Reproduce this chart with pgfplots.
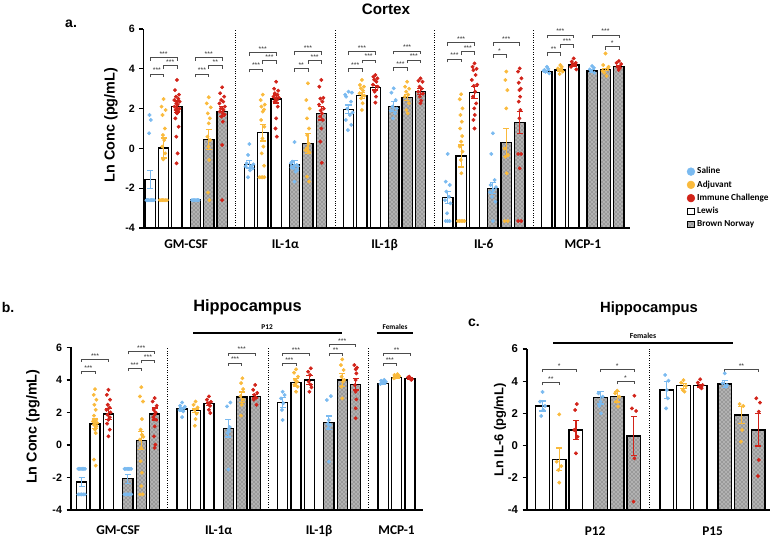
\documentclass[border=0pt]{standalone}
\usepackage{pgfplots}
\pgfplotsset{compat=1.18}
\usepackage{fontspec}
\setmainfont{Liberation Sans}
\newfontfamily\carlito{Carlito}
\usetikzlibrary{patterns}
\definecolor{sal}{RGB}{122,186,240}
\definecolor{adj}{RGB}{250,186,60}
\definecolor{imm}{RGB}{210,35,25}
\tikzset{
  hatched/.style={fill=black!30, postaction={pattern=crosshatch dots, pattern color=black!70}},
  sepl/.style={line width=0.7pt, dash pattern=on 0.7pt off 1.1pt},
  sigline/.style={draw=black!70, line width=0.45pt},
  sigtext/.style={above, inner sep=0.6pt, font=\fontsize{5.2}{5.2}\selectfont, text=black!80},
}
\pgfplotsset{
  panel/.style={
    scale only axis, clip=false, anchor=south west,
    axis x line*=bottom, axis y line*=left,
    axis line style={-, line width=1.3pt},
    ymin=-4, ymax=6, ytick={-4,-2,0,2,4,6}, yticklabels={-4,-2,0,2,4,6},
    y coord trafo/.code={\pgfmathparse{##1+4}},
    y coord inv trafo/.code={\pgfmathparse{##1-4}},
    ytick style={line width=1pt, black}, major tick length=3pt, tick align=outside,
    xtick style={draw=none},
    /pgf/number format/assume math mode=true,
    yticklabel style={font=\bfseries\fontsize{8}{9}\selectfont},
    xticklabel style={font=\carlito\bfseries\fontsize{10}{12}\selectfont, yshift=-2pt},
  },
  lewisbar/.style={ybar, bar shift=0pt, mark=none, fill=white, draw=black, line width=1pt, forget plot},
  bnbar/.style={ybar, bar shift=0pt, mark=none, draw=black, line width=1pt, hatched, forget plot},
  pts/.style={only marks, mark=*, mark size=1.25pt, forget plot, color=#1},
  eb/.style={forget plot, draw=none, mark=none,
    error bars/.cd, y dir=both, y explicit,
    error bar style={draw=#1, line width=0.9pt},
    error mark options={rotate=90, mark size=2.3pt, line width=0.9pt, draw=#1}},
}
\newcommand\sig[4]{\draw[sigline] (axis cs:#1,#3-0.17) -- (axis cs:#1,#3) -- node[sigtext]{#4} (axis cs:#2,#3) -- (axis cs:#2,#3-0.17);}

\begin{document}
\begin{tikzpicture}
\path[use as bounding box] (0,0) rectangle (583.5pt,405pt);

% ---------------- Panel a: Cortex ----------------
\begin{axis}[panel, at={(107.6pt,234pt)}, width=364.9pt, height=149.25pt,
  xmin=-0.5, xmax=35.8,
  xtick={2.685,10.085,17.485,24.885,32.285},
  xticklabels={GM-CSF,IL-1α,IL-1β,IL-6,MCP-1},
  legend style={at={(1.108,0.33)}, anchor=north west, draw=none, fill=none,
    font=\carlito\bfseries\fontsize{6.9}{8}\selectfont, row sep=0.4pt,
    nodes={inner sep=1.6pt}},
  legend cell align=left]
\addplot[lewisbar, bar width=0.77] coordinates {(0,-1.55) (1,0.02) (2,2.1) (7.4,-0.8) (8.4,0.79) (9.4,2.48) (14.8,1.96) (15.8,2.67) (16.8,3.05) (22.2,-2.48) (23.2,-0.38) (24.2,2.8) (29.6,3.86) (30.6,3.94) (31.6,4.19)};
\addplot[bnbar, bar width=0.77] coordinates {(3.37,-2.6) (4.37,0.46) (5.37,1.85) (10.77,-0.8) (11.77,0.25) (12.77,1.76) (18.17,2.1) (19.17,2.55) (20.17,2.85) (25.57,-2.0) (26.57,0.29) (27.57,1.31) (32.97,3.89) (33.97,3.97) (34.97,4.1)};
\draw[sepl] (axis cs:6.4,-4) -- (axis cs:6.4,6);
\draw[sepl] (axis cs:13.8,-4) -- (axis cs:13.8,6);
\draw[sepl] (axis cs:21.2,-4) -- (axis cs:21.2,6);
\draw[sepl] (axis cs:28.6,-4) -- (axis cs:28.6,6);
\addplot[pts=sal] coordinates {
(-0.28,-2.6) (-0.19,-2.6) (-0.1,-2.6) (0,-2.6) (0.1,-2.6) (0.19,-2.6) (0.28,-2.6) (-0.05,1.68) (0.05,1.43) (-0.08,0.76)
(7.4,0.22) (7.3,-0.33) (7.2,-0.75) (7.55,-0.88) (7.65,-1.0) (7.3,-1.45) (7.7,-0.8) (7.12,-0.9) (7.45,-1.1)
(14.8,2.85) (14.62,2.6) (14.98,2.35) (14.7,2.0) (14.9,1.68) (14.6,1.43) (15.0,1.18) (14.75,0.92) (15.05,2.8) (14.55,2.7) (15.1,1.8)
(22.2,-0.28) (22.05,-1.67) (22.35,-1.84) (22.1,-2.17) (22.3,-2.43) (22.0,-2.6) (22.4,-2.76) (22.15,-3.26) (22.05,-3.65) (22.2,-3.65) (22.35,-3.65)
(29.6,4.1) (29.42,3.94) (29.78,3.77) (29.5,3.85) (29.7,4.0) (29.35,3.9)
(3.12,-2.6) (3.22,-2.6) (3.32,-2.6) (3.42,-2.6) (3.52,-2.6) (3.62,-2.6)
(10.77,0.32) (10.6,-0.67) (10.94,-0.83) (10.7,-1.0) (10.85,-1.17) (10.77,-1.67) (10.5,-0.75) (11.02,-0.9) (10.55,-0.95) (10.98,-1.1) (10.75,-0.85)
(18.17,3.02) (18.0,2.8) (18.32,2.43) (18.08,2.1) (18.27,1.76) (18.12,1.51) (18.4,2.0) (17.95,1.9)
(25.57,0.76) (25.45,-0.28) (25.7,-1.59) (25.4,-1.84) (25.6,-2.09) (25.5,-2.43) (25.75,-2.68) (25.57,-3.65) (25.35,-2.2) (25.8,-1.95)
(32.97,4.14) (32.8,3.97) (33.14,3.8) (32.88,3.9) (33.1,4.05)};
\addplot[pts=adj] coordinates {
(1.0,2.48) (0.85,2.1) (1.15,1.93) (0.92,1.68) (1.1,1.0) (0.95,0.67) (1.05,0.42) (0.9,0.09) (1.12,-0.25) (0.98,-0.55) (0.72,-2.6) (0.82,-2.6) (0.92,-2.6) (1.02,-2.6) (1.12,-2.6) (1.25,-2.6)
(8.4,2.7) (8.25,2.43) (8.55,2.2) (8.3,2.1) (8.5,1.95) (8.4,1.85) (8.28,1.43) (8.52,1.09) (8.38,0.5) (8.45,0.09) (8.32,-0.25) (8.5,-0.87) (8.15,-1.45) (8.28,-1.45) (8.4,-1.45) (8.52,-1.45)
(15.8,3.44) (15.65,3.19) (15.95,3.1) (15.72,3.02) (15.88,2.9) (15.62,2.77) (15.98,2.65) (15.75,2.52) (15.85,2.27) (15.8,1.93)
(23.2,2.72) (23.1,2.47) (23.3,2.01) (23.15,1.68) (23.25,1.34) (23.12,1.0) (23.28,0.62) (23.2,0.34) (23.1,0.09) (23.3,-0.16) (23.18,-0.58) (23.22,-1.25) (22.95,-3.65) (23.07,-3.65) (23.2,-3.65) (23.33,-3.65) (23.45,-3.65)
(30.6,4.19) (30.42,4.02) (30.78,3.86) (30.55,3.74) (30.7,4.1) (30.48,3.95)
(4.37,2.57) (4.22,2.26) (4.52,2.06) (4.3,1.76) (4.45,1.51) (4.37,1.26) (4.27,0.59) (4.47,0.42) (4.35,0.09) (4.4,-0.58) (4.32,-2.22) (4.42,-2.6)
(11.77,3.27) (11.65,2.43) (11.9,2.0) (11.7,1.51) (11.85,1.0) (11.72,0.67) (11.82,0.25) (11.68,0.0) (11.88,-0.2) (11.6,-0.1) (11.7,-1.42) (11.85,-1.67)
(19.17,3.35) (19.02,3.1) (19.32,3.0) (19.1,2.85) (19.25,2.7) (19.0,2.6) (19.3,2.27) (19.12,1.93) (19.22,1.76)
(26.57,3.86) (26.5,3.44) (26.65,2.93) (26.57,2.01) (26.45,0.0) (26.7,-0.33) (26.5,-0.42) (26.6,-1.25) (26.45,-3.65) (26.68,-3.65)
(33.97,4.77) (33.8,4.19) (34.14,4.02) (33.88,3.8) (34.05,3.64) (34.2,4.1) (33.75,3.9)};
\addplot[pts=imm] coordinates {
(2.0,3.44) (1.85,2.93) (2.15,2.7) (1.92,2.6) (2.1,2.5) (1.8,2.43) (2.2,2.35) (1.95,2.26) (2.05,2.2) (1.82,2.1) (2.18,2.0) (1.9,1.93) (2.1,1.85) (2.0,1.76) (1.88,1.51) (2.12,1.09) (1.95,0.59) (2.05,-0.25) (1.97,-0.75)
(9.4,3.35) (9.25,3.0) (9.55,2.9) (9.3,2.77) (9.5,2.7) (9.2,2.6) (9.6,2.55) (9.35,2.5) (9.45,2.43) (9.28,2.35) (9.52,2.1) (9.4,1.51) (9.35,1.0) (9.45,0.59)
(16.8,3.69) (16.65,3.6) (16.95,3.52) (16.72,3.45) (16.88,3.35) (16.62,3.2) (16.98,3.1) (16.75,2.85) (16.85,2.6) (16.8,2.3)
(24.2,4.27) (24.05,4.1) (24.35,4.0) (24.12,3.93) (24.28,3.69) (24.0,3.44) (24.4,3.2) (24.15,3.14) (24.25,2.85) (24.08,2.6) (24.32,2.26) (24.18,2.01) (24.22,1.68) (24.12,1.43) (24.2,1.0)
(31.6,4.52) (31.45,4.36) (31.75,4.3) (31.52,4.25) (31.68,4.19) (31.4,4.1) (31.8,3.97)
(5.37,3.07) (5.22,2.77) (5.52,2.6) (5.3,2.43) (5.45,2.35) (5.17,2.26) (5.57,2.1) (5.27,2.0) (5.47,1.93) (5.2,1.85) (5.4,1.76) (5.55,1.7) (5.32,1.6) (5.42,1.34) (5.37,0.17) (5.37,-2.6)
(12.77,3.44) (12.62,3.1) (12.92,2.54) (12.7,2.5) (12.85,2.35) (12.6,2.2) (12.95,2.0) (12.72,1.9) (12.82,1.76) (12.67,1.6) (12.88,1.43) (12.77,1.0) (12.7,0.34) (12.8,-0.72)
(20.17,3.52) (20.02,3.4) (20.32,3.35) (20.1,3.1) (20.25,3.0) (20.0,2.85) (20.35,2.75) (20.12,2.6) (20.22,2.4) (20.17,2.27)
(27.57,4.02) (27.45,3.86) (27.7,3.52) (27.5,3.3) (27.65,3.0) (27.55,2.93) (27.6,2.6) (27.5,2.35) (27.62,1.93) (27.55,1.51) (27.45,-0.28) (27.68,-0.28) (27.57,-1.0) (27.45,-3.65) (27.68,-3.65)
(34.97,4.39) (34.8,4.3) (35.14,4.24) (34.88,4.1) (35.05,4.05) (34.95,3.94)};
\addplot[eb=sal] coordinates {(0,-1.55) +- (0,0.45) (3.37,-2.6) +- (0,0.03) (7.4,-0.8) +- (0,0.18) (10.77,-0.8) +- (0,0.2) (14.8,1.96) +- (0,0.22) (18.17,2.1) +- (0,0.25) (22.2,-2.48) +- (0,0.3) (25.57,-2.0) +- (0,0.28) (29.6,3.86) +- (0,0.06) (32.97,3.89) +- (0,0.06)};
\addplot[eb=adj] coordinates {(1,0.02) +- (0,0.5) (4.37,0.46) +- (0,0.5) (8.4,0.79) +- (0,0.42) (11.77,0.25) +- (0,0.5) (15.8,2.67) +- (0,0.15) (19.17,2.55) +- (0,0.15) (23.2,-0.38) +- (0,0.55) (26.57,0.29) +- (0,0.7) (30.6,3.94) +- (0,0.05) (33.97,3.97) +- (0,0.06)};
\addplot[eb=imm] coordinates {(2,2.1) +- (0,0.28) (5.37,1.85) +- (0,0.25) (9.4,2.48) +- (0,0.2) (12.77,1.76) +- (0,0.33) (16.8,3.05) +- (0,0.12) (20.17,2.85) +- (0,0.15) (24.2,2.8) +- (0,0.3) (27.57,1.31) +- (0,0.55) (31.6,4.19) +- (0,0.05) (34.97,4.1) +- (0,0.05)};
\sig{0}{1}{3.74}{***}\sig{0}{2}{4.58}{***}\sig{1}{2}{4.16}{***}
\sig{3.37}{4.37}{3.74}{***}\sig{3.37}{5.37}{4.58}{***}\sig{4.37}{5.37}{4.16}{**}
\sig{7.4}{8.4}{3.99}{***}\sig{7.4}{9.4}{4.83}{***}\sig{8.4}{9.4}{4.41}{***}
\sig{10.77}{11.77}{4.02}{**}\sig{10.77}{12.77}{4.86}{***}\sig{11.77}{12.77}{4.41}{***}
\sig{14.8}{15.8}{4.02}{***}\sig{14.8}{16.8}{4.86}{***}\sig{15.8}{16.8}{4.44}{***}
\sig{18.17}{19.17}{4.06}{***}\sig{18.17}{20.17}{4.89}{***}\sig{19.17}{20.17}{4.44}{***}
\sig{22.2}{23.2}{4.49}{***}\sig{22.2}{24.2}{5.33}{***}\sig{23.2}{24.2}{4.86}{***}
\sig{25.57}{26.57}{4.73}{*}\sig{25.57}{27.57}{5.33}{***}
\sig{29.6}{30.6}{4.81}{**}\sig{29.6}{31.6}{5.7}{***}\sig{30.6}{31.6}{5.23}{***}
\sig{32.97}{34.97}{5.7}{***}\sig{33.97}{34.97}{5.11}{*}
\addlegendimage{legend image code/.code={\fill[sal] (0.09cm,0cm) circle (2.9pt);}}\addlegendentry{Saline}
\addlegendimage{legend image code/.code={\fill[adj] (0.09cm,0cm) circle (2.9pt);}}\addlegendentry{Adjuvant}
\addlegendimage{legend image code/.code={\fill[imm] (0.09cm,0cm) circle (2.9pt);}}\addlegendentry{Immune Challenge}
\addlegendimage{legend image code/.code={\draw[line width=0.8pt, fill=white] (0cm,-0.085cm) rectangle (0.18cm,0.085cm);}}\addlegendentry{Lewis}
\addlegendimage{legend image code/.code={\draw[line width=0.8pt, hatched] (0cm,-0.085cm) rectangle (0.18cm,0.085cm);}}\addlegendentry{Brown Norway}
\end{axis}

% ---------------- Panel b: Hippocampus ----------------
\begin{axis}[panel, at={(53pt,22.5pt)}, width=264.2pt, height=122pt,
  xmin=-0.82, xmax=25.47,
  xtick={2.725,10.225,17.725,23.5},
  xticklabels={GM-CSF,IL-1α,IL-1β,MCP-1},
  xticklabel style={yshift=-3pt}]
\addplot[lewisbar, bar width=0.76] coordinates {(0,-2.27) (1,1.29) (2,1.9) (7.5,2.2) (8.5,2.1) (9.5,2.53) (15,2.62) (16,3.83) (17,3.99) (22.5,3.79) (23.5,4.16) (24.5,4.09)};
\addplot[bnbar, bar width=0.76] coordinates {(3.45,-2.08) (4.45,0.27) (5.45,1.9) (10.95,1.02) (11.95,2.94) (12.95,2.98) (18.45,1.37) (19.45,3.99) (20.45,3.73)};
\draw[sepl] (axis cs:6.42,-4) -- (axis cs:6.42,6);
\draw[sepl] (axis cs:13.93,-4) -- (axis cs:13.93,6);
\draw[sepl] (axis cs:21.44,-4) -- (axis cs:21.44,6);
\addplot[pts=sal] coordinates {
(-0.25,-1.47) (-0.15,-1.47) (-0.05,-1.47) (0.05,-1.47) (0.15,-1.47) (0.25,-1.47) (-0.25,-3.04) (-0.12,-3.04) (0,-3.04) (0.12,-3.04) (0.25,-3.04)
(7.5,2.61) (7.35,2.41) (7.65,2.27) (7.42,2.2) (7.58,2.06) (7.5,1.71) (7.7,2.35) (7.3,2.15)
(15.0,3.27) (15.15,3.07) (14.88,2.86) (15.05,2.56) (14.95,2.15) (15.0,1.53)
(22.5,3.9) (22.35,3.95) (22.65,3.85) (22.42,3.8) (22.58,4.0) (22.3,3.75) (22.7,3.88)
(3.2,-1.47) (3.3,-1.47) (3.4,-1.47) (3.5,-1.47) (3.6,-1.47) (3.7,-1.47) (3.2,-3.04) (3.33,-3.04) (3.45,-3.04) (3.58,-3.04) (3.7,-3.04)
(11.1,2.61) (10.85,2.37) (10.95,0.94) (10.88,0.73) (11.05,1.1) (11.0,0.85) (10.95,-1.51)
(18.6,3.0) (18.3,2.76) (18.45,1.53) (18.55,1.23) (18.4,1.02) (18.35,1.3) (18.45,-1.03)};
\addplot[pts=adj] coordinates {
(1.0,3.43) (0.9,3.08) (1.1,2.78) (0.95,2.47) (1.05,2.16) (0.92,1.8) (1.08,1.55) (0.85,1.45) (1.15,1.35) (0.9,1.25) (1.1,1.14) (1.0,0.94) (1.05,0.73) (0.92,-0.9) (1.05,-1.27)
(8.5,2.67) (8.35,2.47) (8.65,2.3) (8.42,2.16) (8.58,1.92) (8.5,1.59) (8.45,1.18)
(16.0,4.65) (15.85,4.44) (16.15,4.2) (15.92,4.0) (16.08,3.89) (15.88,3.7) (16.12,3.58) (16.0,3.27)
(23.5,4.2) (23.35,4.3) (23.65,4.25) (23.42,4.15) (23.58,4.35) (23.3,4.1) (23.7,4.22)
(4.45,3.55) (4.35,2.98) (4.58,2.67) (4.5,1.59) (4.4,0.94) (4.5,0.63) (4.35,0.33) (4.6,0.5) (4.45,-0.18) (4.4,-1.0) (4.5,-1.71) (4.45,-2.53) (4.35,-3.04) (4.55,-3.04)
(12.0,4.1) (11.9,3.8) (12.05,3.43) (11.85,3.0) (12.05,2.78) (11.95,2.47) (11.9,1.8)
(19.45,5.26) (19.35,4.91) (19.55,4.61) (19.4,4.2) (19.5,3.89) (19.38,3.58) (19.45,2.86) (19.6,4.0)};
\addplot[pts=imm] coordinates {
(2.0,3.39) (1.88,3.08) (2.12,2.78) (1.95,2.47) (2.08,2.3) (1.85,2.16) (2.15,2.0) (1.92,1.86) (2.1,1.7) (2.0,1.55) (1.9,1.31) (2.1,0.94) (2.0,0.53)
(9.5,2.98) (9.35,2.78) (9.65,2.65) (9.42,2.57) (9.58,2.4) (9.5,2.16) (9.6,1.96)
(17.1,4.71) (16.9,4.5) (17.05,4.3) (16.95,3.89) (17.1,3.7) (17.15,3.54) (17.0,3.27)
(24.35,4.15) (24.5,4.1) (24.65,4.05) (24.45,4.2) (24.6,4.0)
(5.45,2.88) (5.3,2.67) (5.6,2.41) (5.38,2.16) (5.52,2.0) (5.45,1.86) (5.35,1.7) (5.55,1.55) (5.45,1.14) (5.4,0.53) (5.5,0.02) (5.45,-0.18)
(12.95,3.69) (12.8,3.39) (13.1,3.2) (12.88,3.08) (13.02,2.9) (12.85,2.78) (13.05,2.47)
(20.35,4.91) (20.55,4.75) (20.45,4.65) (20.5,4.4) (20.45,3.99) (20.4,3.68) (20.45,3.27) (20.5,2.8) (20.45,2.25) (20.45,1.64)};
\addplot[eb=sal] coordinates {(0,-2.27) +- (0,0.27) (3.45,-2.08) +- (0,0.27) (7.5,2.2) +- (0,0.11) (10.95,1.02) +- (0,0.53) (15,2.62) +- (0,0.31) (18.45,1.37) +- (0,0.41) (22.5,3.79) +- (0,0.04)};
\addplot[eb=adj] coordinates {(1,1.29) +- (0,0.3) (4.45,0.27) +- (0,0.57) (8.5,2.1) +- (0,0.11) (11.95,2.94) +- (0,0.31) (16,3.83) +- (0,0.25) (19.45,3.99) +- (0,0.4) (23.5,4.16) +- (0,0.05)};
\addplot[eb=imm] coordinates {(2,1.9) +- (0,0.33) (5.45,1.9) +- (0,0.37) (9.5,2.53) +- (0,0.1) (12.95,2.98) +- (0,0.1) (17,3.99) +- (0,0.27) (20.45,3.73) +- (0,0.35) (24.5,4.09) +- (0,0.05)};
\sig{0}{1}{4.51}{***}\sig{0}{2}{5.27}{***}
\sig{3.45}{4.45}{4.71}{***}\sig{3.45}{5.45}{5.73}{***}\sig{4.45}{5.45}{5.18}{***}
\sig{10.95}{11.95}{5.04}{***}\sig{10.95}{12.95}{5.65}{***}
\sig{15}{16}{5.02}{***}\sig{15}{17}{5.63}{***}
\sig{18.45}{19.45}{5.63}{**}\sig{18.45}{20.45}{6.18}{***}
\sig{22.5}{23.5}{5.02}{***}\sig{22.5}{24.5}{5.63}{**}
\end{axis}

% ---------------- Panel c: Hippocampus IL-6 ----------------
\begin{axis}[panel, at={(395pt,22.5pt)}, width=182.5pt, height=120.75pt,
  xmin=-0.95, xmax=13.62,
  xtick={3.15,10.18},
  xticklabels={P12,P15},
  xticklabel style={yshift=-4pt},
  yticklabel style={font=\bfseries\fontsize{8.5}{9}\selectfont}]
\addplot[lewisbar, bar width=0.82] coordinates {(0,2.46) (1,-0.85) (2,0.97) (7.44,3.45) (8.44,3.72) (9.44,3.72)};
\addplot[bnbar, bar width=0.82] coordinates {(3.47,2.98) (4.47,3.04) (5.47,0.6) (10.91,3.83) (11.91,1.9) (12.91,0.97)};
\draw[sepl] (axis cs:6.4,-4) -- (axis cs:6.4,6);
\addplot[pts=sal] coordinates {(0,3.33) (-0.15,2.73) (0.15,2.46) (0.05,2.21) (-0.08,1.84)
(3.35,3.25) (3.6,3.04) (3.47,2.73) (3.4,2.46) (3.5,2.0)
(7.34,4.39) (7.54,4.03) (7.44,3.45) (7.5,2.94) (7.4,2.31)
(10.91,4.49) (10.78,3.87) (11.04,3.76) (10.95,3.66)};
\addplot[pts=adj] coordinates {(1.0,1.94) (0.85,-1.0) (1.12,-1.27) (0.95,-1.52) (1.0,-2.3)
(4.47,3.41) (4.35,3.25) (4.6,3.04) (4.42,2.73) (4.52,2.42)
(8.44,4.07) (8.3,3.91) (8.58,3.7) (8.4,3.45) (8.5,3.35)
(11.8,2.58) (12.02,2.46) (11.95,0.97) (11.88,0.24)};
\addplot[pts=imm] coordinates {(2.05,2.58) (1.95,2.21) (1.9,0.97) (2.1,0.55) (2.0,-0.48)
(5.5,3.1) (5.35,2.31) (5.6,2.15) (5.5,-0.79) (5.45,-3.48)
(9.44,4.12) (9.3,3.91) (9.58,3.76) (9.4,3.66) (9.52,3.56)
(12.8,2.94) (13.02,2.67) (12.95,2.11) (12.95,-0.89) (12.9,-1.89)};
\addplot[eb=sal] coordinates {(0,2.46) +- (0,0.31) (3.47,2.98) +- (0,0.39) (7.44,3.45) +- (0,0.52) (10.91,3.83) +- (0,0.2)};
\addplot[eb=adj] coordinates {(1,-0.85) +- (0,0.7) (4.47,3.04) +- (0,0.33) (8.44,3.72) +- (0,0.15) (11.91,1.9) +- (0,0.55)};
\addplot[eb=imm] coordinates {(2,0.97) +- (0,0.6) (5.47,0.6) +- (0,1.22) (9.44,3.72) +- (0,0.08) (12.91,0.97) +- (0,1.0)};
\sig{0}{1}{3.91}{**}\sig{0}{2}{4.74}{*}
\sig{3.47}{5.47}{4.74}{*}\sig{4.47}{5.47}{3.97}{*}
\sig{10.91}{12.91}{4.74}{**}
\end{axis}

% ---------------- titles and labels ----------------
\node[font=\bfseries\fontsize{11.4}{13}\selectfont] at (289.5pt,398.25pt) {Cortex};
\node[font=\bfseries\fontsize{10.5}{12}\selectfont] at (53.3pt,387pt) {a.};
\node[rotate=90, font=\bfseries\fontsize{10.8}{12}\selectfont] at (83.25pt,311.25pt) {Ln Conc (pg/mL)};

\node[font=\bfseries\fontsize{10.5}{12}\selectfont] at (6pt,174.75pt) {b.};
\node[font=\bfseries\fontsize{12.3}{14}\selectfont] at (185.6pt,174.2pt) {Hippocampus};
\node[rotate=90, font=\bfseries\fontsize{10.8}{12}\selectfont] at (24.75pt,85pt) {Ln Conc (pg/mL)};
\draw[line width=1.5pt] (144.75pt,155.5pt) -- (256.3pt,155.5pt);
\node[font=\carlito\bfseries\fontsize{5.5}{6}\selectfont, inner sep=1pt] at (200.3pt,159.6pt) {P12};
\draw[line width=1.5pt] (282.5pt,155.5pt) -- (310pt,155.5pt);
\node[font=\carlito\bfseries\fontsize{5.5}{6}\selectfont, inner sep=1pt] at (296.25pt,159.6pt) {Females};

\node[font=\bfseries\fontsize{10.5}{12}\selectfont] at (355.5pt,162.75pt) {c.};
\node[font=\bfseries\fontsize{11.1}{13}\selectfont] at (486.75pt,173.25pt) {Hippocampus};
\node[rotate=90, font=\bfseries\fontsize{9.7}{11}\selectfont] at (375pt,82.5pt) {Ln IL-6 (pg/mL)};
\draw[line width=1.5pt] (415pt,148.1pt) -- (550pt,148.1pt);
\node[font=\carlito\bfseries\fontsize{5.8}{6}\selectfont, inner sep=1pt] at (482.25pt,153.2pt) {Females};
\end{tikzpicture}
\end{document}
